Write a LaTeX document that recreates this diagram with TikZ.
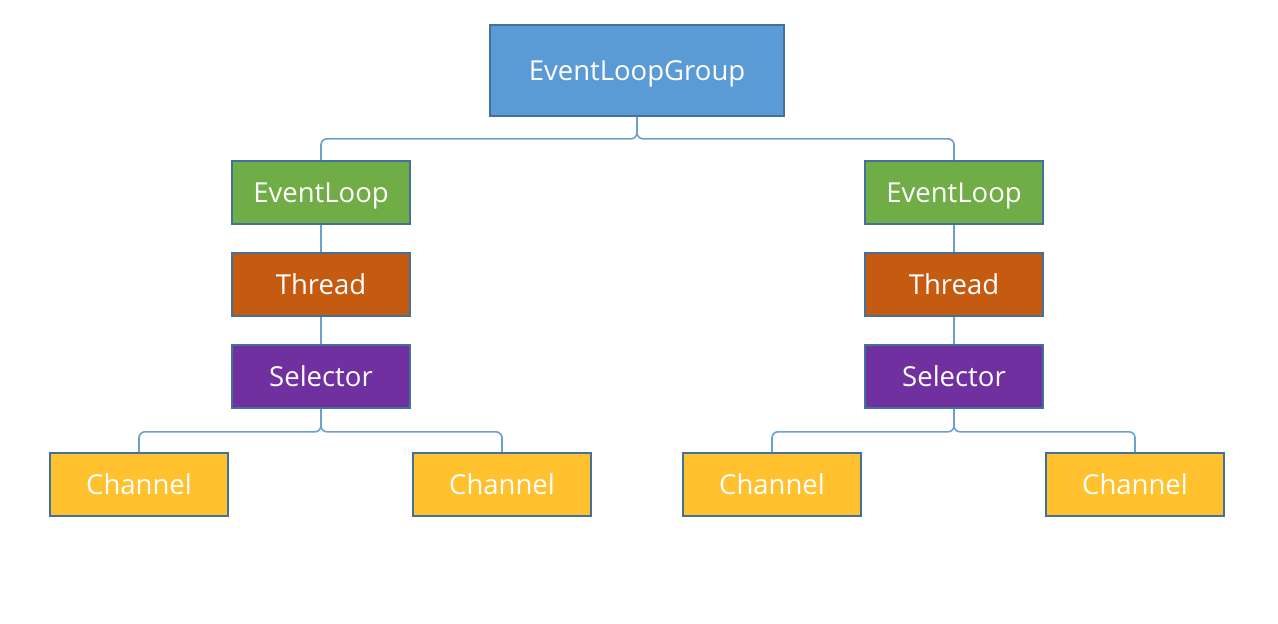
\documentclass[tikz,border=0pt]{standalone}
\usepackage{fontspec}
\setmainfont{Open Sans}
\definecolor{cblue}{HTML}{5B9BD5}
\definecolor{cgreen}{HTML}{70AD47}
\definecolor{corange}{HTML}{C55A11}
\definecolor{cpurple}{HTML}{7030A0}
\definecolor{cyellow}{HTML}{FFC12E}
\definecolor{cborder}{HTML}{41719C}
\definecolor{cline}{HTML}{6A9FD0}
\begin{document}
\begin{tikzpicture}[x=1pt,y=-1pt,
  box/.style={draw=cborder,line width=1.6pt,text=white,inner sep=0pt,text height=19.5pt,text depth=0pt,font=\fontsize{27.5}{32}\selectfont},
  midbox/.style={box,minimum width=178pt,minimum height=63pt},
  link/.style={draw=cline,line width=1.6pt},
  brace/.style={link,rounded corners=6pt}]
\useasboundingbox (0,0) rectangle (1278,624);
\node[box,fill=cblue,minimum width=294pt,minimum height=91pt] (g) at (637,70.5) {EventLoopGroup};
\node[midbox,fill=cgreen] (el1) at (321,192.5) {EventLoop};
\node[midbox,fill=corange] (t1) at (321,284.5) {Thread};
\node[midbox,fill=cpurple] (s1) at (321,376.5) {Selector};
\node[midbox,fill=cgreen] (el2) at (954,192.5) {EventLoop};
\node[midbox,fill=corange] (t2) at (954,284.5) {Thread};
\node[midbox,fill=cpurple] (s2) at (954,376.5) {Selector};
\node[midbox,fill=cyellow] (c1) at (139,484.5) {Channel};
\node[midbox,fill=cyellow] (c2) at (502,484.5) {Channel};
\node[midbox,fill=cyellow] (c3) at (772,484.5) {Channel};
\node[midbox,fill=cyellow] (c4) at (1135,484.5) {Channel};
% top brace
\draw[brace] (el1.north) |- ([yshift=-22pt]g.south) -- (g.south);
\draw[brace] (el2.north) |- ([yshift=-22pt]g.south) -- (g.south);
% vertical links
\draw[link] (el1) -- (t1);
\draw[link] (t1) -- (s1);
\draw[link] (el2) -- (t2);
\draw[link] (t2) -- (s2);
% lower braces
\draw[brace] (c1.north) |- ([yshift=-23pt]s1.south) -- (s1.south);
\draw[brace] (c2.north) |- ([yshift=-23pt]s1.south) -- (s1.south);
\draw[brace] (c3.north) |- ([yshift=-23pt]s2.south) -- (s2.south);
\draw[brace] (c4.north) |- ([yshift=-23pt]s2.south) -- (s2.south);
\end{tikzpicture}
\end{document}
